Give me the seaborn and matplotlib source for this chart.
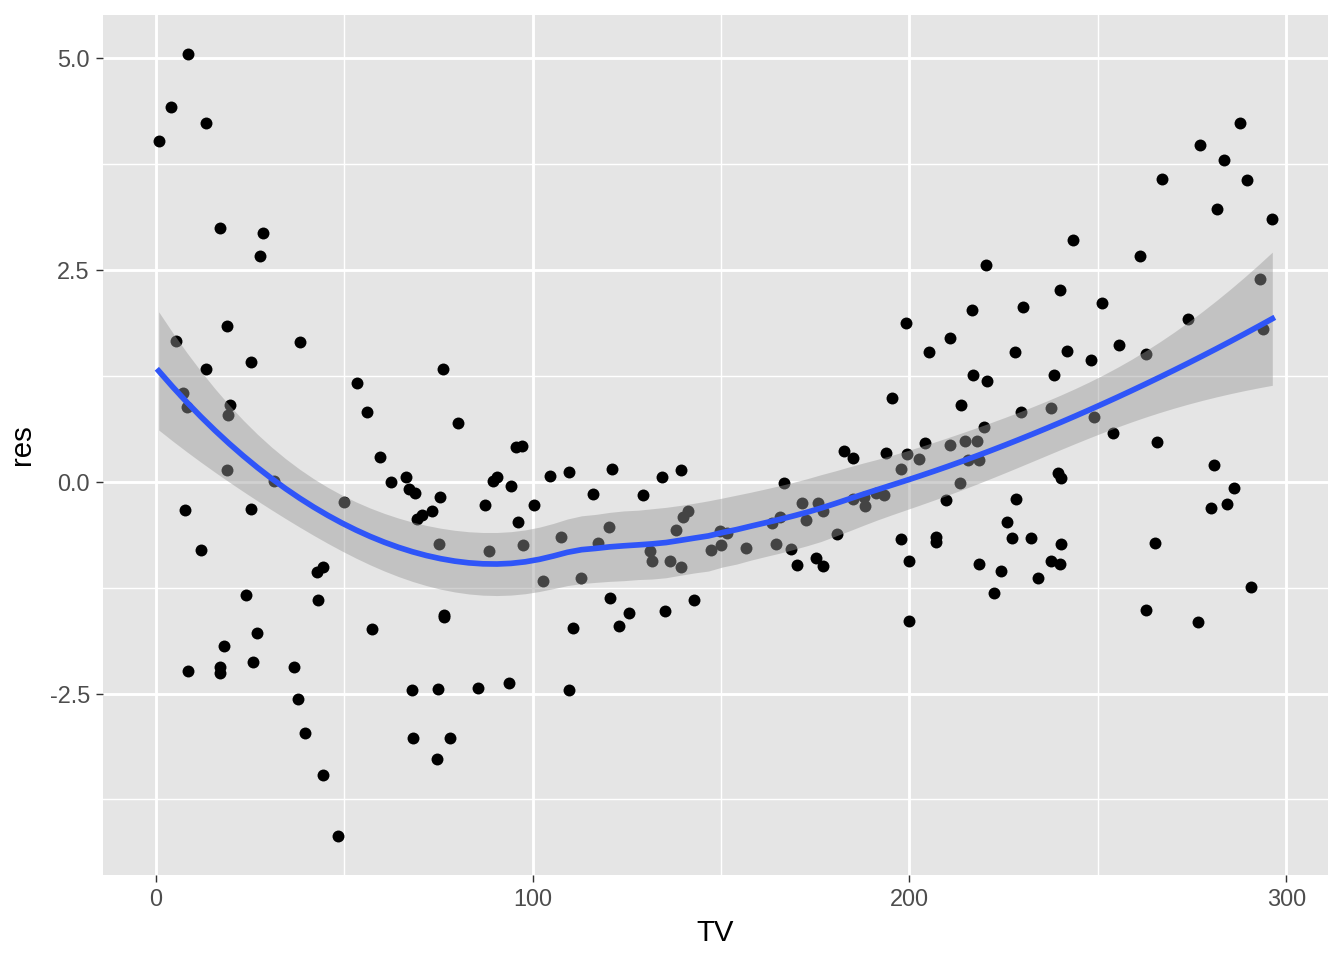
import numpy as np
import pandas as pd
import matplotlib
matplotlib.use('Agg')
import matplotlib.pyplot as plt
import seaborn as sns

# --- data ---
tv = [0.8, 4.2, 8.5, 13.3, 5.3, 7.2, 8.2, 7.7, 8.7, 11.9,
      13.3, 17.2, 18.8, 19.6, 19.3, 18.8, 18.0, 17.2, 17.0, 25.2,
      25.2, 23.9, 25.7, 26.8, 27.6, 28.6, 31.5, 36.8, 38.2, 37.9,
      39.5, 42.9, 43.2, 44.5, 44.3, 48.5, 50.1, 53.5, 56.2, 57.5,
      59.6, 62.5, 66.3, 67.1, 68.9, 69.4, 70.8, 73.4, 75.5, 75.3,
      76.3, 67.9, 68.4, 75.0, 74.7, 76.6, 76.6, 78.2, 80.3, 85.6,
      87.5, 88.5, 89.6, 90.6, 93.8, 94.4, 95.7, 97.3, 96.2, 97.5,
      100.4, 102.8, 104.7, 107.6, 109.7, 109.7, 110.8, 112.9, 116.1, 117.4,
      120.3, 120.6, 121.1, 123.0, 125.6, 129.3, 131.2, 131.7, 134.4, 135.2,
      136.5, 138.1, 139.4, 139.4, 139.9, 141.3, 142.9, 147.4, 149.7, 150.0,
      151.6, 156.6, 163.5, 165.6, 164.6, 166.7, 168.6, 170.2, 171.5, 172.5,
      175.2, 177.0, 175.7, 177.0, 180.8, 182.6, 185.0, 185.0, 187.9, 188.2,
      191.1, 193.2, 193.7, 195.3, 197.7, 197.7, 199.3, 199.0, 199.8, 199.8,
      202.5, 204.1, 205.1, 207.0, 207.0, 209.6, 210.7, 210.7, 213.6, 213.4,
      214.7, 215.5, 216.5, 216.8, 217.9, 218.4, 218.4, 219.7, 220.5, 220.3,
      222.4, 224.2, 225.8, 227.1, 228.2, 227.9, 229.5, 230.1, 232.2, 234.0,
      237.5, 238.3, 239.3, 240.1, 240.1, 237.5, 239.9, 239.9, 241.7, 243.3,
      248.3, 248.9, 251.0, 253.9, 255.5, 261.3, 262.7, 262.9, 265.3, 265.6,
      266.9, 273.8, 276.7, 277.0, 280.1, 280.7, 281.5, 283.6, 284.4, 286.0,
      287.6, 289.7, 290.7, 292.9, 293.7, 296.3]

res = [4.02, 4.42, 5.05, 4.24, 1.66, 1.05, 0.88, -0.33, -2.23, -0.81,
       1.33, 3.00, 1.84, 0.91, 0.79, 0.14, -1.94, -2.19, -2.26, 1.41,
       -0.32, -1.34, -2.13, -1.78, 2.67, 2.94, 0.01, -2.19, 1.65, -2.56,
       -2.97, -1.06, -1.39, -1.01, -3.46, -4.18, -0.24, 1.17, 0.82, -1.74,
       0.29, 0.00, 0.06, -0.09, -0.13, -0.44, -0.39, -0.35, -0.18, -0.73,
       1.33, -2.46, -3.03, -2.44, -3.27, -1.57, -1.60, -3.03, 0.69, -2.43,
       -0.27, -0.82, 0.01, 0.06, -2.37, -0.05, 0.41, 0.42, -0.47, -0.74,
       -0.27, -1.17, 0.07, -0.65, 0.12, -2.46, -1.72, -1.13, -0.14, -0.72,
       -0.53, -1.37, 0.15, -1.70, -1.55, -0.16, -0.82, -0.94, 0.06, -1.53,
       -0.94, -0.57, 0.14, -1.01, -0.42, -0.35, -1.40, -0.80, -0.58, -0.74,
       -0.60, -0.78, -0.48, -0.41, -0.73, -0.01, -0.79, -0.98, -0.25, -0.45,
       -0.90, -0.99, -0.25, -0.34, -0.62, 0.37, 0.28, -0.20, -0.18, -0.29,
       -0.13, -0.15, 0.34, 0.99, 0.15, -0.67, 0.33, 1.87, -0.94, -1.64,
       0.27, 0.46, 1.53, -0.65, -0.71, -0.22, 0.44, 1.70, 0.91, -0.01,
       0.48, 0.26, 2.03, 1.26, 0.48, 0.26, -0.97, 0.65, 1.19, 2.56,
       -1.31, -1.05, -0.47, -0.66, -0.20, 1.53, 0.82, 2.07, -0.66, -1.13,
       0.87, 1.26, 0.11, 0.04, -0.73, -0.93, -0.97, 2.26, 1.54, 2.86,
       1.44, 0.77, 2.11, 0.58, 1.61, 2.67, 1.51, -1.51, -0.72, 0.47,
       3.57, 1.92, -1.65, 3.98, -0.31, 0.20, 3.22, 3.80, -0.26, -0.07,
       4.24, 3.56, -1.24, 2.39, 1.80, 3.10]

x_breaks = [0, 100, 200, 300]
y_breaks = [-2.5, 0.0, 2.5, 5.0]
y_labels = ['-2.5', '0.0', '2.5', '5.0']

df = pd.DataFrame({'TV': tv, 'res': res})


# --- loess smoother (degree 2, span 0.75, like geom_smooth) ---
def loess_rows(x, x0, span=0.75):
    n = len(x)
    q = int(np.floor(n * span))
    d = np.abs(x - x0)
    h = np.sort(d)[q - 1]
    w = np.clip(1 - (d / h) ** 3, 0, None) ** 3
    X = np.column_stack([np.ones(n), x - x0, (x - x0) ** 2])
    XtW = X.T * w
    return np.linalg.solve(XtW @ X, XtW)[0]


x = df['TV'].to_numpy()
y = df['res'].to_numpy()
L = np.array([loess_rows(x, xi) for xi in x])
resid = y - L @ y
M = (np.eye(len(x)) - L).T @ (np.eye(len(x)) - L)
one_delta = np.trace(M)
two_delta = np.trace(M @ M)
sigma = np.sqrt(np.sum(resid ** 2) / one_delta)
dof = one_delta ** 2 / two_delta
z = 1.959964
tq = z + (z ** 3 + z) / (4 * dof) + (5 * z ** 5 + 16 * z ** 3 + 3 * z) / (96 * dof ** 2)

xs = np.linspace(x.min(), x.max(), 80)
Ls = np.array([loess_rows(x, xi) for xi in xs])
fit = Ls @ y
se = sigma * np.sqrt(np.sum(Ls ** 2, axis=1))
smooth = pd.DataFrame({'TV': xs, 'res': fit,
                       'lo': fit - tq * se, 'hi': fit + tq * se})

# --- figure ---
plt.rcParams['font.family'] = ['Liberation Sans', 'DejaVu Sans']
fig = plt.figure(figsize=(7, 5), dpi=192)
ax = fig.add_axes([103 / 1344, 1 - 875 / 960, 1225 / 1344, 860 / 960])
ax.set_facecolor('#E5E5E5')

sns.scatterplot(data=df, x='TV', y='res', ax=ax, color='black', s=20,
                linewidth=0, zorder=3)
ax.fill_between(smooth['TV'], smooth['lo'], smooth['hi'], color='#999999',
                alpha=0.45, linewidth=0, zorder=4)
sns.lineplot(data=smooth, x='TV', y='res', ax=ax, color='#2F55F8',
             linewidth=2.13, zorder=5)

xr = x.max() - x.min()
yr = y.max() - y.min()
ax.set_xlim(x.min() - 0.05 * xr, x.max() + 0.05 * xr)
ax.set_ylim(y.min() - 0.05 * yr, y.max() + 0.05 * yr)

ax.set_xticks(x_breaks)
ax.set_yticks(y_breaks)
ax.set_yticklabels(y_labels)
ax.set_xticks([50, 150, 250], minor=True)
ax.set_yticks([-3.75, -1.25, 1.25, 3.75], minor=True)
ax.grid(which='major', color='white', linewidth=1.07, zorder=0)
ax.grid(which='minor', color='white', linewidth=0.53, zorder=0)
ax.set_axisbelow(True)
for sp in ax.spines.values():
    sp.set_visible(False)
ax.tick_params(which='major', length=2.75, width=0.53, color='#333333',
               labelsize=8.8, labelcolor='#4D4D4D', pad=2.2)
ax.tick_params(which='minor', length=0)

ax.set_xlabel('TV', fontsize=11, color='black', labelpad=3)
ax.set_ylabel('res', fontsize=11, color='black', labelpad=5)

fig.savefig('out.png', dpi=192)
